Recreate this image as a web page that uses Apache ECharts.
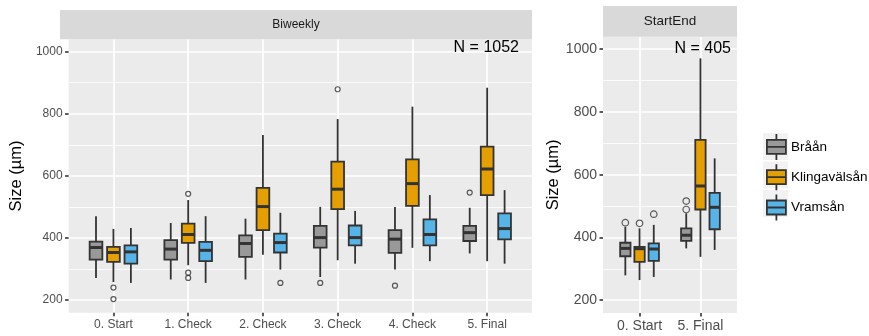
<!DOCTYPE html>
<html>
<head>
<meta charset="utf-8">
<title>Size by river</title>
<script src="https://cdn.jsdelivr.net/npm/echarts@6/dist/echarts.min.js"></script>
<style>
  html, body { margin: 0; padding: 0; background: #fff; }
  #main { width: 869px; height: 336px; }
</style>
</head>
<body>
<div id="main"></div>
<script>
// categories
const biweeklyCats = ["0. Start", "1. Check", "2. Check", "3. Check", "4. Check", "5. Final"];
const startEndCats = ["0. Start", "5. Final"];
const rivers = ["Bråån", "Klingavälsån", "Vramsån"];
const yTicks = [200, 400, 600, 800, 1000];
const yMinorTicks = [300, 500, 700, 900];

// boxes: [min, Q1, median, Q3, max] per category
const braanBiweekly = [
  [271, 330, 369, 388, 470],
  [266, 330, 364, 393, 448],
  [266, 339, 382, 408, 462],
  [274, 369, 401, 439, 500],
  [298, 352, 396, 425, 500],
  [350, 390, 417, 439, 497]
];
const klingBiweekly = [
  [258, 323, 353, 371, 429],
  [312, 384, 411, 446, 522],
  [346, 425, 501, 561, 732],
  [328, 493, 557, 646, 783],
  [368, 503, 575, 653, 823],
  [325, 538, 622, 694, 884]
];
const vramBiweekly = [
  [255, 317, 355, 376, 432],
  [255, 325, 360, 387, 470],
  [298, 353, 385, 414, 481],
  [317, 376, 401, 440, 487],
  [325, 376, 411, 460, 538],
  [317, 395, 430, 479, 554]
];
// outliers: [category index, value]
const braanOutBiweekly = [[3, 255], [4, 246], [5, 546]];
const klingOutBiweekly = [[0, 240], [0, 203], [1, 542], [1, 288], [1, 271], [3, 879]];
const vramOutBiweekly = [[2, 255]];

const braanStartEnd = [
  [279, 340, 365, 383, 434],
  [365, 389, 407, 429, 477]
];
const klingStartEnd = [
  [264, 322, 364, 370, 429],
  [338, 489, 564, 711, 971]
];
const vramStartEnd = [
  [274, 325, 363, 381, 440],
  [360, 426, 496, 542, 652]
];
const braanOutStartEnd = [[0, 447], [1, 516], [1, 489]];
const klingOutStartEnd = [[0, 445]];
const vramOutStartEnd = [[0, 474]];

const FONT = '"Liberation Sans", Arial, sans-serif';
const riverColors = ["#999999", "#E69F00", "#56B4E9"];
const LINE = "#333333";
const BOX_W = 0.17;
const DODGE = 0.7 / 3;
const Y_MIN = 159;
const Y_MAX = 1040;

const panels = [
  {
    title: "Biweekly", n: "N = 1052", cats: biweeklyCats,
    boxes: [braanBiweekly, klingBiweekly, vramBiweekly],
    outliers: [braanOutBiweekly, klingOutBiweekly, vramOutBiweekly],
    grid: { left: 60, top: 39.3, width: 472, height: 273.4 },
    stripTop: 10, font: 12, stripFont: 12, outSize: 5, nameGap: 36
  },
  {
    title: "StartEnd", n: "N = 405", cats: startEndCats,
    boxes: [braanStartEnd, klingStartEnd, vramStartEnd],
    outliers: [braanOutStartEnd, klingOutStartEnd, vramOutStartEnd],
    grid: { left: 603, top: 36.7, width: 134, height: 276.3 },
    stripTop: 6, font: 14, stripFont: 13.5, outSize: 6.5, nameGap: 41
  }
];

function renderBox(params, api) {
  const x = api.value(0);
  const lo = api.coord([x, api.value(1)]);
  const q1 = api.coord([x, api.value(2)]);
  const md = api.coord([x, api.value(3)]);
  const q3 = api.coord([x, api.value(4)]);
  const hi = api.coord([x, api.value(5)]);
  const w = api.size([BOX_W, 0])[0];
  return {
    type: "group",
    children: [
      { type: "line", shape: { x1: lo[0], y1: lo[1], x2: q1[0], y2: q1[1] }, style: { stroke: LINE, lineWidth: 1.8 } },
      { type: "line", shape: { x1: q3[0], y1: q3[1], x2: hi[0], y2: hi[1] }, style: { stroke: LINE, lineWidth: 1.8 } },
      { type: "rect", shape: { x: q3[0] - w / 2, y: q3[1], width: w, height: q1[1] - q3[1] },
        style: { fill: api.visual("color"), stroke: LINE, lineWidth: 1.8 } },
      { type: "line", shape: { x1: md[0] - w / 2, y1: md[1], x2: md[0] + w / 2, y2: md[1] }, style: { stroke: LINE, lineWidth: 3 } }
    ]
  };
}

const grids = [];
const xAxes = [];
const yAxes = [];
const series = [];
const graphics = [];

panels.forEach((p, pi) => {
  grids.push(Object.assign({ show: true, backgroundColor: "#EBEBEB", borderWidth: 0 }, p.grid));
  const catIdx = p.cats.map((c, i) => i);
  xAxes.push({
    type: "value", gridIndex: pi, min: -0.6, max: p.cats.length - 0.4,
    axisLine: { show: false, onZero: false },
    axisTick: { show: true, length: 3.5, customValues: catIdx, lineStyle: { color: LINE, width: 1.6 } },
    axisLabel: { customValues: catIdx, formatter: v => p.cats[Math.round(v)], margin: 6,
      fontSize: p.font, color: "#4D4D4D", fontFamily: FONT },
    splitLine: { show: true, lineStyle: { color: "#fff", width: 1.7 } }
  });
  yAxes.push({
    type: "value", gridIndex: pi, min: Y_MIN, max: Y_MAX, position: "left",
    name: "Size (µm)", nameLocation: "middle", nameGap: p.nameGap,
    nameTextStyle: { fontSize: 16.5, color: "#000", fontFamily: FONT },
    axisLine: { show: false, onZero: false },
    axisTick: { show: true, length: 3.5, customValues: yTicks, lineStyle: { color: LINE, width: 1.6 } },
    axisLabel: { customValues: yTicks, formatter: v => String(v), margin: 6,
      fontSize: p.font, color: "#4D4D4D", fontFamily: FONT },
    splitLine: { show: true, lineStyle: { color: "#fff", width: 1.7 } }
  });
  yAxes.push({
    type: "value", gridIndex: pi, min: Y_MIN, max: Y_MAX, position: "left",
    axisLine: { show: false, onZero: false },
    axisTick: { show: false, customValues: yMinorTicks },
    axisLabel: { show: false, customValues: yMinorTicks },
    splitLine: { show: true, lineStyle: { color: "#fff", width: 0.8 } }
  });

  rivers.forEach((river, ri) => {
    const off = (ri - 1) * DODGE;
    series.push({
      type: "custom", name: river, xAxisIndex: pi, yAxisIndex: pi * 2,
      itemStyle: { color: riverColors[ri] },
      renderItem: renderBox,
      encode: { x: 0, y: [1, 2, 3, 4, 5] },
      data: p.boxes[ri].map((b, i) => [i + off].concat(b)),
      z: 3
    });
    series.push({
      type: "scatter", name: river, xAxisIndex: pi, yAxisIndex: pi * 2,
      symbol: "circle", symbolSize: p.outSize,
      itemStyle: { color: "rgba(0,0,0,0)", borderColor: LINE, borderWidth: 1.2 },
      data: p.outliers[ri].map(o => [o[0] + off, o[1]]),
      z: 4
    });
  });

  // facet strip
  graphics.push({
    type: "rect", silent: true, z: 1,
    shape: { x: p.grid.left, y: p.stripTop, width: p.grid.width, height: p.grid.top - p.stripTop },
    style: { fill: "#D9D9D9" }
  });
  graphics.push({
    type: "text", silent: true, z: 2,
    x: p.grid.left + p.grid.width / 2, y: (p.stripTop + p.grid.top) / 2,
    style: { text: p.title, fill: "#1A1A1A", fontSize: p.stripFont, fontFamily: FONT, align: "center", verticalAlign: "middle" }
  });
});

// N labels
graphics.push({ type: "text", silent: true, z: 100, x: 519, y: 48,
  style: { text: panels[0].n, fill: "#000", fontSize: 16, fontFamily: FONT, align: "right", verticalAlign: "middle" } });
graphics.push({ type: "text", silent: true, z: 100, x: 731, y: 49,
  style: { text: panels[1].n, fill: "#000", fontSize: 16, fontFamily: FONT, align: "right", verticalAlign: "middle" } });

// legend key backgrounds
[133, 161.5, 190].forEach(y => {
  graphics.push({ type: "rect", silent: true, z: 0, shape: { x: 763, y: y, width: 25, height: 27 }, style: { fill: "#F2F2F2" } });
});

const boxIcon = "path://M9.5,0V6M0,6H19V20H0ZM0,13H19M9.5,20V26";

const option = {
  animation: false,
  backgroundColor: "#fff",
  grid: grids,
  xAxis: xAxes,
  yAxis: yAxes,
  legend: {
    orient: "vertical", left: 766, top: 133, padding: 0,
    itemWidth: 19, itemHeight: 26, itemGap: 2.5,
    icon: boxIcon,
    itemStyle: { borderColor: LINE, borderWidth: 1.8 },
    textStyle: { fontSize: 13.5, color: "#000", fontFamily: FONT },
    data: rivers
  },
  graphic: graphics,
  series: series
};

const chart = echarts.init(document.getElementById("main"));
chart.setOption(option);
</script>
</body>
</html>
